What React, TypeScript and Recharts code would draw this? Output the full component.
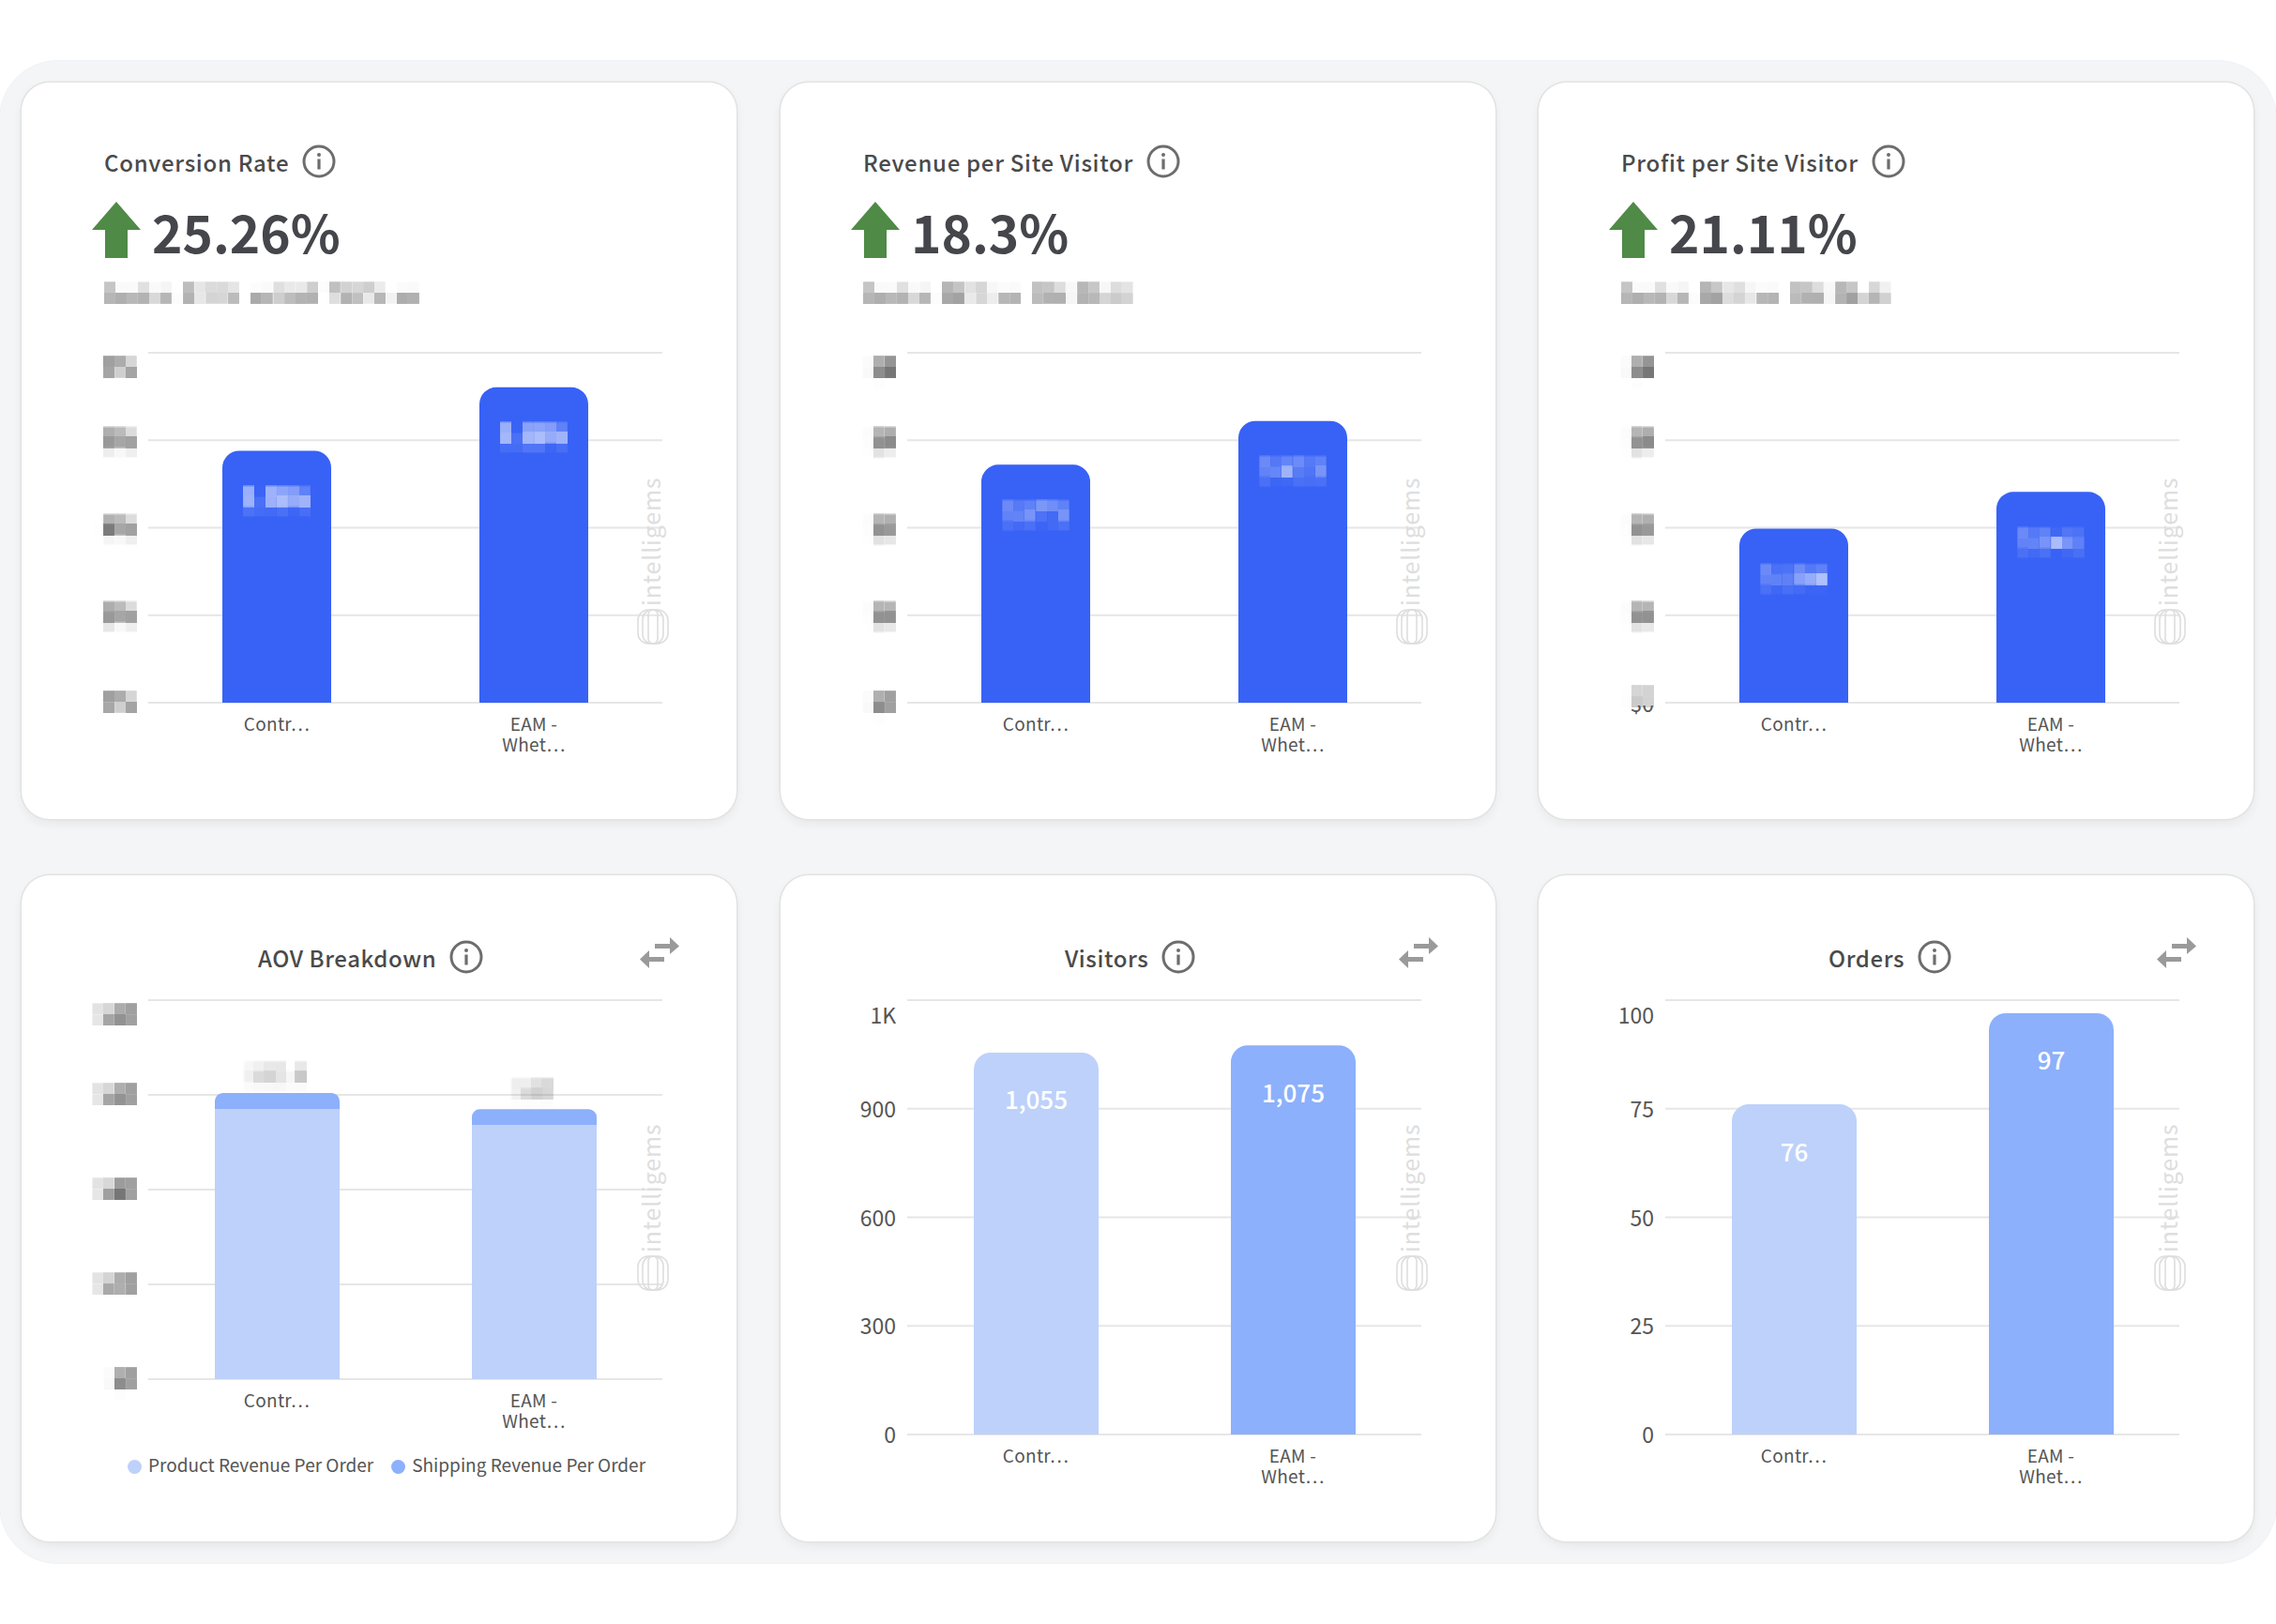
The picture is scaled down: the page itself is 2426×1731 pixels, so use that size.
import { Bar, BarChart, CartesianGrid, Cell, LabelList, Legend, XAxis, YAxis } from 'recharts'

const categories = ['Contr…', 'EAM - Whet…']

const conversionValues = [5.76, 7.21]
const conversionTicks = [0, 2, 4, 6, 8]
const revenueValues = [2.72, 3.22]
const revenueTicks = [0, 1, 2, 3, 4]
const profitValues = [1.99, 2.41]
const profitTicks = [0, 1, 2, 3, 4]

const productRevenue = [57, 53.6]
const shippingRevenue = [3.4, 3.4]
const aovTotals = [60.4, 57]
const aovTicks = [0, 20, 40, 60, 80]

const visitorValues = [1055, 1075]
const visitorTicks = [0, 300, 600, 900, 1200]
const orderValues = [76, 97]
const orderTicks = [0, 25, 50, 75, 100]

const BLUE = '#3862f5'
const LIGHT = '#bdd1fa'
const MID = '#8cb0fb'
const FONT = '"Noto Sans CJK SC", "Noto Sans", sans-serif'
const CARD_W = 762
const TOP_H = 785
const BOTTOM_H = 710
const PLOT_LEFT = 135
const PLOT_RIGHT = 79

function Mosaic({ x, y, anchor, fill, size, opacity, children }: any) {
  return (
    <g transform={`translate(${x},${y})`} opacity={opacity ?? 1}>
      <text
        x={0}
        y={0}
        textAnchor={anchor ?? 'middle'}
        dominantBaseline="central"
        fill={fill}
        fontSize={size ?? 24}
        fontWeight={600}
        wordSpacing={5}
        fontFamily={FONT}
        filter="url(#pixelate)"
      >
        {children}
      </text>
    </g>
  )
}

function YTick({ x, y, payload, index, format, blurred, showZero }: any) {
  const text = format(payload.value)
  // the top label sits below its grid line
  const top = index === 4
  const ty = top ? y + 15 : y - 1
  if (showZero && payload.value === 0) {
    // the mosaic in the reference misses the lower half of this one label
    return (
      <g transform={`translate(${x},${y})`}>
        <clipPath id="zero-clip">
          <rect x={-40} y={3} width={40} height={24} />
        </clipPath>
        <text
          textAnchor="end"
          dominantBaseline="central"
          fill="#555"
          fontSize={23}
          fontFamily={FONT}
          clipPath="url(#zero-clip)"
        >
          {text}
        </text>
        <Mosaic x={0} y={-7} anchor="end" fill="#555" size={23} opacity={0.5}>
          {text}
        </Mosaic>
      </g>
    )
  }
  if (blurred) {
    return (
      <Mosaic x={x} y={ty} anchor="end" fill="#444" size={24}>
        {text}
      </Mosaic>
    )
  }
  return (
    <text x={x} y={ty} textAnchor="end" dominantBaseline="central" fill="#555" fontSize={23} fontFamily={FONT}>
      {text}
    </text>
  )
}

function XTick({ x, y, payload }: any) {
  const words = String(payload.value).split(' - ')
  const lines = words.length > 1 ? [`${words[0]} -`, words[1]] : words
  return (
    <text x={x} y={y} textAnchor="middle" fill="#555" fontSize={19} letterSpacing={0.3} fontFamily={FONT}>
      {lines.map((l, i) => (
        <tspan key={l} x={x} dy={i === 0 ? 22 : 22}>
          {l}
        </tspan>
      ))}
    </text>
  )
}

function InfoIcon() {
  return (
    <svg width={36} height={36} viewBox="0 0 36 36" style={{ display: 'block' }}>
      <circle cx={18} cy={18} r={16} fill="none" stroke="#6d6d6d" strokeWidth={3} />
      <circle cx={18} cy={11} r={2} fill="#6d6d6d" />
      <rect x={16.4} y={15.5} width={3.2} height={11} fill="#6d6d6d" />
    </svg>
  )
}

function SwapIcon({ left, top }: { left: number; top: number }) {
  return (
    <svg width={42} height={33} viewBox="0 0 42 33" style={{ position: 'absolute', left, top }}>
      <path d="M16 7 L32 7 L32 0 L42 9.5 L32 18 L32 12 L16 12 Z" fill="#9a9a9a" />
      <path d="M26 21 L10 21 L10 14 L0 23.5 L10 33 L10 26 L26 26 Z" fill="#9a9a9a" />
    </svg>
  )
}

function Watermark({ top }: { top: number }) {
  return (
    <svg width={40} height={180} style={{ position: 'absolute', left: 653, top, overflow: 'visible' }}>
      <text
        transform="translate(28,138) rotate(-90)"
        fill="#dedede"
        fontSize={25}
        fontFamily={FONT}
        letterSpacing={0.8}
      >
        intelligems
      </text>
      <g fill="none" stroke="#dedede" strokeWidth={1.6}>
        <rect x={4} y={142} width={32} height={36} rx={11} />
        <rect x={9} y={142} width={22} height={36} rx={10} />
        <rect x={15} y={142} width={10} height={36} rx={5} />
      </g>
    </svg>
  )
}

function TopCard({ left, title, headline, note, values, ticks, format, showZero }: any) {
  const data = categories.map((name, i) => ({ name, value: values[i] }))
  return (
    <Shell left={left} top={88} height={TOP_H}>
      <div style={{ position: 'absolute', left: 88, top: 66, display: 'flex', alignItems: 'center', gap: 14 }}>
        <span style={{ fontSize: 24, fontWeight: 500, color: '#4a4a4a', letterSpacing: 0.7 }}>{title}</span>
        <InfoIcon />
      </div>
      <svg width={52} height={60} viewBox="0 0 52 60" style={{ position: 'absolute', left: 75, top: 127 }}>
        <path d="M26 0 L52 30 L38 30 L38 60 L14 60 L14 30 L0 30 Z" fill="#4f8a47" />
      </svg>
      <div
        style={{
          position: 'absolute',
          left: 139,
          top: 118,
          fontSize: 55,
          lineHeight: '80px',
          fontWeight: 700,
          color: '#45464b',
        }}
      >
        {headline}
      </div>
      <BarChart
        width={CARD_W}
        height={TOP_H}
        data={data}
        margin={{ top: 288, right: PLOT_RIGHT, bottom: 64, left: 0 }}
        style={{ position: 'absolute', left: 0, top: 0 }}
      >
        <CartesianGrid vertical={false} stroke="#e6e6e6" strokeWidth={2} />
        <XAxis dataKey="name" axisLine={false} tickLine={false} height={60} interval={0} tick={<XTick />} />
        <YAxis
          width={PLOT_LEFT}
          domain={[0, ticks[4]]}
          ticks={ticks}
          interval={0}
          axisLine={false}
          tickLine={false}
          tickMargin={6}
          tick={<YTick format={format} blurred showZero={showZero} />}
        />
        <Bar dataKey="value" fill={BLUE} barSize={116} radius={[18, 18, 0, 0]} isAnimationActive={false}>
          <LabelList
            dataKey="value"
            content={(p: any) => (
              <Mosaic x={p.x + p.width / 2} y={p.y + 51} fill="#ffffff" size={24}>
                {format(p.value)}
              </Mosaic>
            )}
          />
        </Bar>
        <Mosaic x={88} y={224} anchor="start" fill="#333" size={20} opacity={0.75}>
          {note}
        </Mosaic>
      </BarChart>
      <Watermark top={420} />
    </Shell>
  )
}

function BottomCard({ left, title, titleLeft, values, ticks, format }: any) {
  const data = categories.map((name, i) => ({ name, value: values[i] }))
  const colors = [LIGHT, MID]
  return (
    <Shell left={left} top={933} height={BOTTOM_H}>
      <div style={{ position: 'absolute', left: titleLeft, top: 69, display: 'flex', alignItems: 'center', gap: 14 }}>
        <span style={{ fontSize: 24, fontWeight: 500, color: '#4a4a4a', letterSpacing: 0.6 }}>{title}</span>
        <InfoIcon />
      </div>
      <SwapIcon left={659} top={66} />
      <BarChart
        width={CARD_W}
        height={BOTTOM_H}
        data={data}
        margin={{ top: 133, right: PLOT_RIGHT, bottom: 54, left: 0 }}
        style={{ position: 'absolute', left: 0, top: 0 }}
      >
        <CartesianGrid vertical={false} stroke="#e6e6e6" strokeWidth={2} />
        <XAxis dataKey="name" axisLine={false} tickLine={false} height={60} interval={0} tick={<XTick />} />
        <YAxis
          width={PLOT_LEFT}
          domain={[0, ticks[4]]}
          ticks={ticks}
          interval={0}
          axisLine={false}
          tickLine={false}
          tickMargin={6}
          tick={<YTick format={format} />}
        />
        <Bar dataKey="value" barSize={133} radius={[18, 18, 0, 0]} isAnimationActive={false}>
          {data.map((d, i) => (
            <Cell key={d.name} fill={colors[i]} />
          ))}
          <LabelList
            dataKey="value"
            content={(p: any) => (
              <text
                x={p.x + p.width / 2}
                y={p.y + 49}
                textAnchor="middle"
                dominantBaseline="central"
                fill="#fff"
                fontSize={26}
                fontWeight={500}
                fontFamily={FONT}
              >
                {p.value.toLocaleString('en-US')}
              </text>
            )}
          />
        </Bar>
      </BarChart>
      <Watermark top={264} />
    </Shell>
  )
}

function AovCard({ left }: { left: number }) {
  const data = categories.map((name, i) => ({
    name,
    product: productRevenue[i],
    shipping: shippingRevenue[i],
    total: aovTotals[i],
  }))
  return (
    <Shell left={left} top={933} height={BOTTOM_H}>
      <div style={{ position: 'absolute', left: 252, top: 69, display: 'flex', alignItems: 'center', gap: 14 }}>
        <span style={{ fontSize: 24, fontWeight: 500, color: '#4a4a4a', letterSpacing: 0.6 }}>AOV Breakdown</span>
        <InfoIcon />
      </div>
      <SwapIcon left={659} top={66} />
      <BarChart
        width={CARD_W}
        height={BOTTOM_H}
        data={data}
        margin={{ top: 133, right: PLOT_RIGHT, bottom: 83, left: 0 }}
        style={{ position: 'absolute', left: 0, top: 0 }}
      >
        <CartesianGrid vertical={false} stroke="#e6e6e6" strokeWidth={2} />
        <XAxis dataKey="name" axisLine={false} tickLine={false} height={60} interval={0} tick={<XTick />} />
        <YAxis
          width={PLOT_LEFT}
          domain={[0, aovTicks[4]]}
          ticks={aovTicks}
          interval={0}
          axisLine={false}
          tickLine={false}
          tickMargin={6}
          tick={<YTick format={(v: number) => `$${v}`} blurred />}
        />
        <Legend
          verticalAlign="bottom"
          align="center"
          iconType="circle"
          iconSize={15}
          height={30}
          wrapperStyle={{ bottom: 66, left: 57, fontSize: 19, color: '#555' }}
          formatter={(v: string) => <span style={{ color: '#555', marginLeft: 3, marginRight: 9 }}>{v}</span>}
        />
        <Bar
          name="Product Revenue Per Order"
          dataKey="product"
          stackId="aov"
          fill={LIGHT}
          barSize={133}
          isAnimationActive={false}
        />
        <Bar
          name="Shipping Revenue Per Order"
          dataKey="shipping"
          stackId="aov"
          fill={MID}
          barSize={133}
          radius={[10, 10, 0, 0]}
          isAnimationActive={false}
        >
          <LabelList
            dataKey="total"
            content={(p: any) => (
              <Mosaic x={p.x + p.width / 2} y={p.y - 20} fill="#555" size={23} opacity={0.45}>
                {`$${p.value}`}
              </Mosaic>
            )}
          />
        </Bar>
      </BarChart>
      <Watermark top={264} />
    </Shell>
  )
}

function Shell({ left, top, height, children }: any) {
  return (
    <div
      style={{
        position: 'absolute',
        left,
        top,
        width: CARD_W,
        height,
        boxSizing: 'border-box',
        background: '#fff',
        borderRadius: 30,
        boxShadow: '0 0 0 1.5px #e2e2e2, 0 5px 12px rgba(0,0,0,0.06)',
      }}
    >
      {children}
    </div>
  )
}

export default function App() {
  return (
    <div
      style={{
        position: 'absolute',
        left: 0,
        top: 0,
        width: 2426,
        height: 1731,
        background: '#fff',
        overflow: 'hidden',
        fontFamily: FONT,
      }}
    >
      <svg width={0} height={0} style={{ position: 'absolute' }}>
        <defs>
          <filter
            id="pixelate"
            filterUnits="userSpaceOnUse"
            x={-432}
            y={-36}
            width={864}
            height={72}
            colorInterpolationFilters="sRGB"
          >
            <feGaussianBlur in="SourceGraphic" stdDeviation={2} result="soft" />
            <feFlood x={-427} y={-31} width={2} height={2} />
            <feComposite x={-432} y={-36} width={12} height={12} />
            <feTile result="cells" />
            <feComposite in="soft" in2="cells" operator="in" />
            <feMorphology operator="dilate" radius={5} />
          </filter>
        </defs>
      </svg>
      <div
        style={{
          position: 'absolute',
          left: 0,
          top: 65,
          width: 2426,
          height: 1601,
          background: '#f4f5f6',
          borderRadius: 62,
          boxShadow: '0 0 0 1px #eef2fb',
        }}
      />
      <TopCard
        left={23}
        title="Conversion Rate"
        headline="25.26%"
        note="Control 5.76% vs EAM 7.21% up"
        values={conversionValues}
        ticks={conversionTicks}
        format={(v: number) => `${v}%`}
      />
      <TopCard
        left={832}
        title="Revenue per Site Visitor"
        headline="18.3%"
        note="Control $2.72 vs EAM $3.22"
        values={revenueValues}
        ticks={revenueTicks}
        format={(v: number) => `$${v}`}
      />
      <TopCard
        left={1640}
        title="Profit per Site Visitor"
        headline="21.11%"
        note="Control $1.99 vs EAM $2.41"
        values={profitValues}
        ticks={profitTicks}
        format={(v: number) => `$${v}`}
        showZero
      />
      <AovCard left={23} />
      <BottomCard
        left={832}
        title="Visitors"
        titleLeft={303}
        values={visitorValues}
        ticks={visitorTicks}
        format={(v: number) => (v >= 1000 ? `${Math.round(v / 1000)}K` : `${v}`)}
      />
      <BottomCard
        left={1640}
        title="Orders"
        titleLeft={309}
        values={orderValues}
        ticks={orderTicks}
        format={(v: number) => `${v}`}
      />
    </div>
  )
}
